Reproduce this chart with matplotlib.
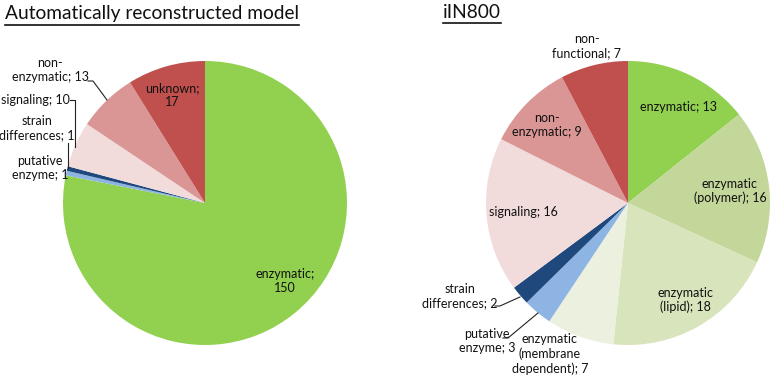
import matplotlib.pyplot as plt
from matplotlib.lines import Line2D

# left pie: automatically reconstructed model
auto_labels = ["enzymatic;\n150", "putative\nenzyme; 1", "strain\ndifferences; 1",
               "signaling; 10", "non-\nenzymatic; 13", "unknown;\n17"]
auto_values = [150, 1, 1, 10, 13, 17]
auto_colors = ["#92D050", "#8DB4E2", "#1F497D", "#F2DCDB", "#DA9694", "#C0504D"]

# right pie: iIN800
iin_labels = ["enzymatic; 13", "enzymatic\n(polymer); 16", "enzymatic\n(lipid); 18",
              "enzymatic\n(membrane\ndependent); 7", "putative\nenzyme; 3",
              "strain\ndifferences; 2", "signaling; 16", "non-\nenzymatic; 9",
              "non-\nfunctional; 7"]
iin_values = [13, 16, 18, 7, 3, 2, 16, 9, 7]
iin_colors = ["#92D050", "#C4D79B", "#D8E4BC", "#EBF1DE", "#8DB4E2", "#1F497D",
              "#F2DCDB", "#DA9694", "#C0504D"]

W, H = 775, 380
plt.rcParams['font.family'] = ['Lato', 'DejaVu Sans']
fig = plt.figure(figsize=(W / 100, H / 100), dpi=100)
ax = fig.add_axes([0, 0, 1, 1])

def py(y):
    return H - y

R = 142
ax.pie(auto_values, colors=auto_colors, startangle=90, counterclock=False,
       center=(205, py(203)), radius=R, frame=True,
       wedgeprops=dict(linewidth=0))
ax.pie(iin_values, colors=iin_colors, startangle=90, counterclock=False,
       center=(628, py(203)), radius=R, frame=True,
       wedgeprops=dict(linewidth=0))
ax.set_xlim(0, W)
ax.set_ylim(0, H)
ax.set_aspect('equal')
ax.axis('off')

fs = 9
auto_pos = [(285, 281), (40, 168), (37, 128), (35, 100), (50, 70), (172, 95)]
for lab, (x, y) in zip(auto_labels, auto_pos):
    ax.text(x, py(y), lab, ha='center', va='center', fontsize=fs,
            multialignment='center', color='#111111')

iin_pos = [(679, 107), (730, 191), (685, 300), (550, 354), (487, 341),
           (460, 296), (523, 212), (547, 125), (587, 46)]
for lab, (x, y) in zip(iin_labels, iin_pos):
    ax.text(x, py(y), lab, ha='center', va='center', fontsize=fs,
            multialignment='center', color='#111111')

# leader lines
leaders = [
    [(88, 81), (93, 81), (107, 100)],
    [(70, 100), (75, 100), (75, 147)],
    [(68, 143), (68, 168)],
    [(495, 306), (500, 306), (520, 297)],
    [(503, 338), (508, 338), (538, 313)],
]
for pts in leaders:
    xs = [p[0] for p in pts]
    ys = [py(p[1]) for p in pts]
    ax.plot(xs, ys, color='#222222', lw=0.8)

# underlined titles
fig.canvas.draw()
r = fig.canvas.get_renderer()
for x, base, uline, txt in [(5, 19, 25, "Automatically reconstructed model"),
                            (443, 18, 23, "iIN800")]:
    t = ax.text(x, py(base), txt, ha='left', va='baseline', fontsize=13.8, color='#111111')
    bb = t.get_window_extent(renderer=r)
    ax.add_line(Line2D([bb.x0, bb.x1], [py(uline), py(uline)], color='#111111', lw=1.2))

fig.savefig("out.png", dpi=100)
